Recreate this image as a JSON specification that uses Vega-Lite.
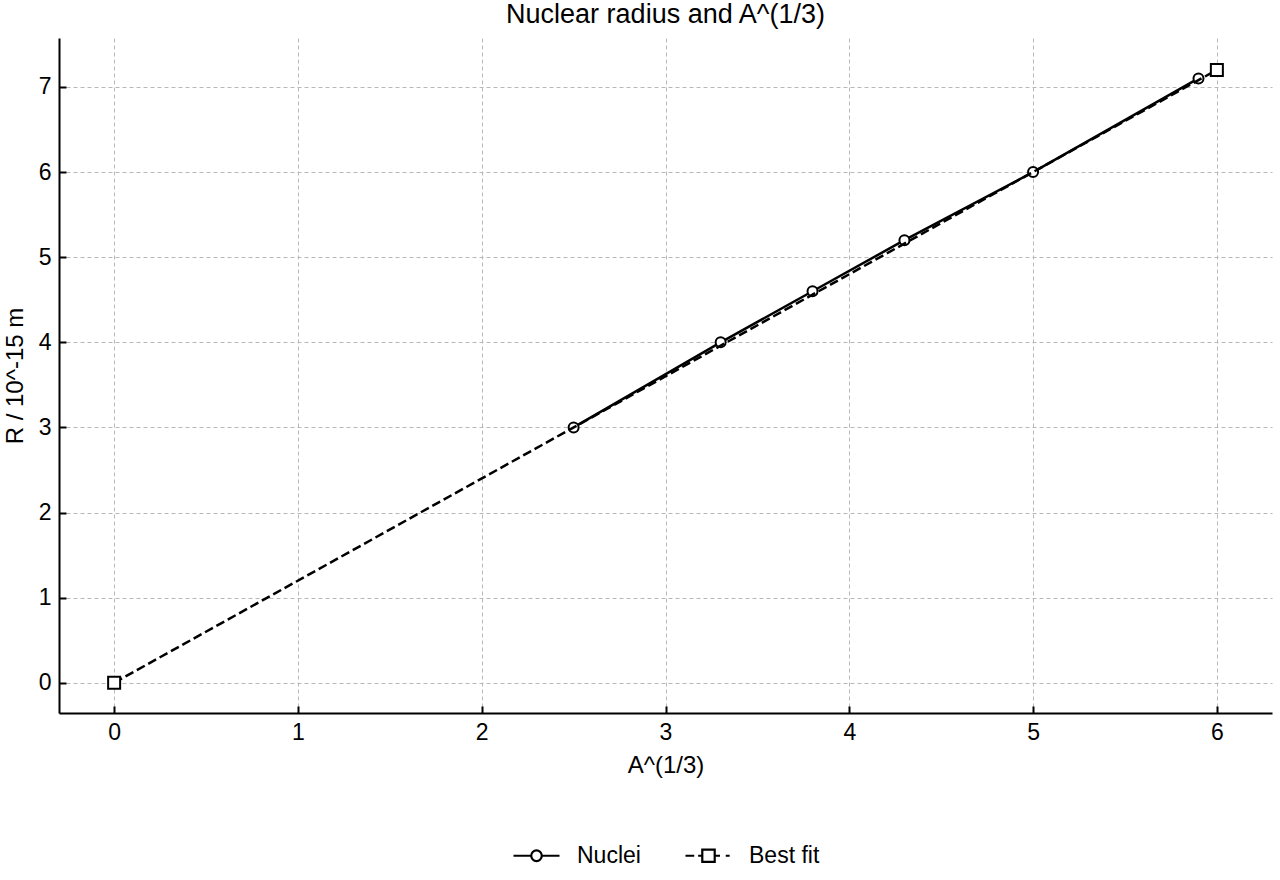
{
  "$schema": "https://vega.github.io/schema/vega-lite/v6.json",
  "width": 1213,
  "height": 675,
  "autosize": {"type": "none"},
  "padding": {"left": 59, "top": 38, "right": 8, "bottom": 167},
  "background": "white",
  "title": {"text": "Nuclear radius and A^(1/3)", "fontSize": 27, "font": "Liberation Sans", "fontWeight": "normal", "color": "black", "offset": 9, "anchor": "middle"},
  "config": {
    "view": {"stroke": null},
    "font": "Liberation Sans",
    "axis": {
      "domainColor": "black", "domainWidth": 2,
      "tickColor": "black", "tickWidth": 2, "tickSize": -7,
      "labelFontSize": 23, "labelColor": "black", "labelFont": "Liberation Sans",
      "titleFontSize": 24, "titleFontWeight": "normal", "titleColor": "black", "titleFont": "Liberation Sans",
      "grid": true, "gridColor": "#b8b8b8", "gridDash": [4, 3], "gridWidth": 1
    },
    "legend": {"layout": {"bottom": {"anchor": "middle"}}}
  },
  "datasets": {
    "pts": [
      {"a": 2.5, "r": 3.0, "series": "Nuclei"},
      {"a": 3.3, "r": 4.0, "series": "Nuclei"},
      {"a": 3.8, "r": 4.6, "series": "Nuclei"},
      {"a": 4.3, "r": 5.2, "series": "Nuclei"},
      {"a": 5.0, "r": 6.0, "series": "Nuclei"},
      {"a": 5.9, "r": 7.1, "series": "Nuclei"},
      {"a": 0.0, "r": 0.0, "series": "Best fit"},
      {"a": 6.0, "r": 7.2, "series": "Best fit"}
    ]
  },
  "data": {"name": "pts"},
  "encoding": {
    "x": {"field": "a", "type": "quantitative", "scale": {"domain": [-0.3, 6.3], "nice": false, "zero": false},
      "axis": {"title": "A^(1/3)", "values": [0, 1, 2, 3, 4, 5, 6], "labelPadding": 15, "titlePadding": 9, "format": "d"}},
    "y": {"field": "r", "type": "quantitative", "scale": {"domain": [-0.355, 7.575], "nice": false, "zero": false},
      "axis": {"title": "R / 10^-15 m", "values": [0, 1, 2, 3, 4, 5, 6, 7], "labelPadding": 15, "titlePadding": 11, "format": "d"}}
  },
  "layer": [
    {"transform": [{"filter": "datum.series === 'Nuclei'"}],
     "mark": {"type": "line", "color": "black", "strokeWidth": 2.5}},
    {"transform": [{"filter": "datum.series === 'Nuclei'"}],
     "mark": {"type": "point", "shape": "circle", "filled": true, "fill": "white", "stroke": "black", "strokeWidth": 2, "size": 100, "opacity": 1}},
    {"transform": [{"filter": "datum.series === 'Best fit'"}],
     "mark": {"type": "line", "color": "black", "strokeWidth": 2.5, "strokeDash": [9, 4]}},
    {"transform": [{"filter": "datum.series === 'Best fit'"}],
     "mark": {"type": "point", "shape": "square", "filled": true, "fill": "white", "stroke": "black", "strokeWidth": 2, "size": 144, "opacity": 1}},
    {"mark": {"type": "point", "filled": false, "opacity": 0},
     "encoding": {
       "shape": {"field": "series", "type": "nominal",
         "scale": {"domain": ["Nuclei", "Best fit"],
           "range": [
             "M-1,0L-0.23,0M0.23,0L1,0M-0.23,0A0.23,0.23,0,1,0,0.23,0A0.23,0.23,0,1,0,-0.23,0Z",
             "M-1,0L-0.62,0M-0.45,0L-0.27,0M0.27,0L0.5,0M0.75,0L0.92,0M-0.27,-0.27L0.27,-0.27L0.27,0.27L-0.27,0.27Z"
           ]},
         "legend": {"title": null, "orient": "bottom", "direction": "horizontal", "offset": 54,
           "symbolSize": 2116, "symbolStrokeWidth": 2.2, "symbolStrokeColor": "black", "symbolFillColor": "white", "symbolOpacity": 1,
           "labelFontSize": 23, "labelColor": "black", "labelFont": "Liberation Sans", "labelOffset": 16, "columnPadding": 40,
           "encode": {"symbols": {"update": {"opacity": {"value": 1}, "stroke": {"value": "black"}, "fill": {"value": "white"}, "strokeWidth": {"value": 2.2}}}}}
       }
     }}
  ]
}
